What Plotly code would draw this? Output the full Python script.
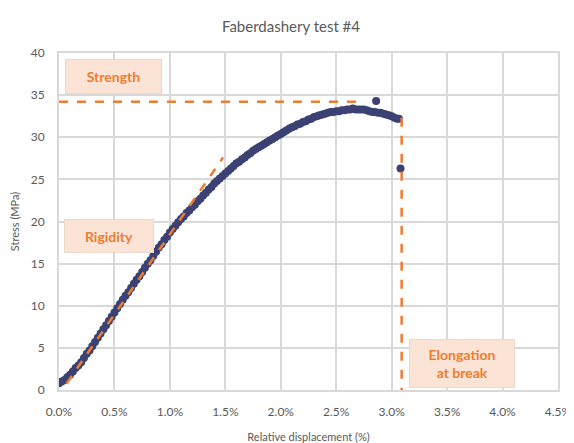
import plotly.graph_objects as go

title = "Faberdashery test #4"
x_title = "Relative displacement (%)"
y_title = "Stress (MPa)"

strain = [0.000, 0.025, 0.050, 0.075, 0.100, 0.125, 0.150, 0.175, 0.200, 0.225,
          0.250, 0.275, 0.300, 0.325, 0.350, 0.375, 0.400, 0.425, 0.450, 0.475,
          0.500, 0.525, 0.550, 0.575, 0.600, 0.625, 0.650, 0.675, 0.700, 0.725,
          0.750, 0.775, 0.800, 0.825, 0.850, 0.875, 0.900, 0.925, 0.950, 0.975,
          1.000, 1.025, 1.050, 1.075, 1.100, 1.125, 1.150, 1.175, 1.200, 1.225,
          1.250, 1.275, 1.300, 1.325, 1.350, 1.375, 1.400, 1.425, 1.450, 1.475,
          1.500, 1.525, 1.550, 1.575, 1.600, 1.625, 1.650, 1.675, 1.700, 1.725,
          1.750, 1.775, 1.800, 1.825, 1.850, 1.875, 1.900, 1.925, 1.950, 1.975,
          2.000, 2.025, 2.050, 2.075, 2.100, 2.125, 2.150, 2.175, 2.200, 2.225,
          2.250, 2.275, 2.300, 2.325, 2.350, 2.375, 2.400, 2.425, 2.450, 2.475,
          2.500, 2.525, 2.550, 2.575, 2.600, 2.625, 2.650, 2.675, 2.700, 2.725,
          2.750, 2.775, 2.800, 2.825, 2.850, 2.875, 2.900, 2.925, 2.950, 2.975,
          3.000, 3.025, 3.050, 3.065, 2.860, 3.080]
stress = [0.8, 1.0, 1.2, 1.5, 1.8, 2.2, 2.6, 2.9, 3.3, 3.8,
          4.3, 4.7, 5.2, 5.7, 6.2, 6.7, 7.2, 7.7, 8.2, 8.7,
          9.2, 9.7, 10.2, 10.7, 11.2, 11.6, 12.1, 12.6, 13.1, 13.5,
          14.0, 14.5, 15.0, 15.4, 15.9, 16.4, 16.9, 17.3, 17.8, 18.2,
          18.7, 19.1, 19.5, 19.9, 20.3, 20.6, 21.0, 21.3, 21.7, 22.0,
          22.4, 22.7, 23.1, 23.4, 23.8, 24.1, 24.5, 24.8, 25.1, 25.4,
          25.7, 26.0, 26.3, 26.6, 26.9, 27.1, 27.4, 27.6, 27.9, 28.1,
          28.4, 28.6, 28.8, 29.0, 29.2, 29.4, 29.6, 29.8, 30.0, 30.2,
          30.4, 30.6, 30.8, 31.0, 31.2, 31.3, 31.5, 31.6, 31.8, 31.9,
          32.1, 32.2, 32.4, 32.5, 32.6, 32.7, 32.8, 32.9, 33.0, 33.0,
          33.1, 33.1, 33.2, 33.2, 33.3, 33.3, 33.4, 33.3, 33.3, 33.3,
          33.3, 33.2, 33.1, 33.0, 33.0, 32.9, 32.9, 32.8, 32.7, 32.6,
          32.5, 32.3, 32.2, 32.2, 34.3, 26.3]

rigidity_x = [0.07, 1.48]
rigidity_y = [0.8, 27.6]
strength_x = [0.0, 2.7]
strength_y = [34.2, 34.2]
break_x = [3.09, 3.09]
break_y = [32.3, 0.0]

x_ticks = [0, 0.5, 1.0, 1.5, 2.0, 2.5, 3.0, 3.5, 4.0, 4.5]
x_labels = ["0.0%", "0.5%", "1.0%", "1.5%", "2.0%", "2.5%", "3.0%", "3.5%", "4.0%", "4.5%"]
y_ticks = [0, 5, 10, 15, 20, 25, 30, 35, 40]

labels = ["Strength", "Rigidity", "Elongation<br>at break"]
label_x = [0.49, 0.45, 3.63]
label_y = [37.2, 18.3, 3.1]
label_w = [93, 86, 102]
label_h = [31, 30, 45]

navy = "#3b4273"
orange = "#ed7d31"
font = "Lato, 'Open Sans', sans-serif"

fig = go.Figure()
fig.add_trace(go.Scatter(x=strain, y=stress, mode="markers",
                         marker=dict(color=navy, size=8), showlegend=False))
for xs, ys in [(rigidity_x, rigidity_y), (strength_x, strength_y), (break_x, break_y)]:
    fig.add_trace(go.Scatter(x=xs, y=ys, mode="lines",
                             line=dict(color=orange, width=2.5, dash="dash"),
                             showlegend=False))

for t, x, y, w, h in zip(labels, label_x, label_y, label_w, label_h):
    fig.add_annotation(x=x, y=y, xref="x", yref="y", text="<b>%s</b>" % t,
                       showarrow=False, width=w, height=h,
                       bgcolor="#fbe4d5", bordercolor="#ead8cc", borderwidth=1,
                       font=dict(family=font, size=14, color=orange))

fig.update_layout(
    width=566, height=435,
    margin=dict(l=51, r=16, t=45, b=53),
    paper_bgcolor="white", plot_bgcolor="white",
    title=dict(text=title, x=0.5, xanchor="center", y=0.958, yanchor="middle",
               font=dict(family=font, size=15, color="#595959")),
    font=dict(family=font, color="#595959"),
)
fig.update_xaxes(range=[0, 4.5], tickvals=x_ticks, ticktext=x_labels, automargin=False,
                 showgrid=True, gridcolor="#d9d9d9", gridwidth=2,
                 showline=True, linecolor="#d9d9d9", linewidth=2, mirror=True,
                 zeroline=False, ticks="", ticklabelstandoff=10,
                 tickfont=dict(size=12, color="#595959"),
                 title=dict(text=x_title, font=dict(size=11, color="#595959"), standoff=16))
fig.update_yaxes(range=[0, 40], tickvals=y_ticks, automargin=False,
                 showgrid=True, gridcolor="#d9d9d9", gridwidth=2,
                 showline=True, linecolor="#d9d9d9", linewidth=2, mirror=True,
                 zeroline=False, ticks="", ticklabelstandoff=10,
                 tickfont=dict(size=12, color="#595959"),
                 title=dict(text=y_title, font=dict(size=11, color="#595959"), standoff=12))

fig.write_html("out.html")
